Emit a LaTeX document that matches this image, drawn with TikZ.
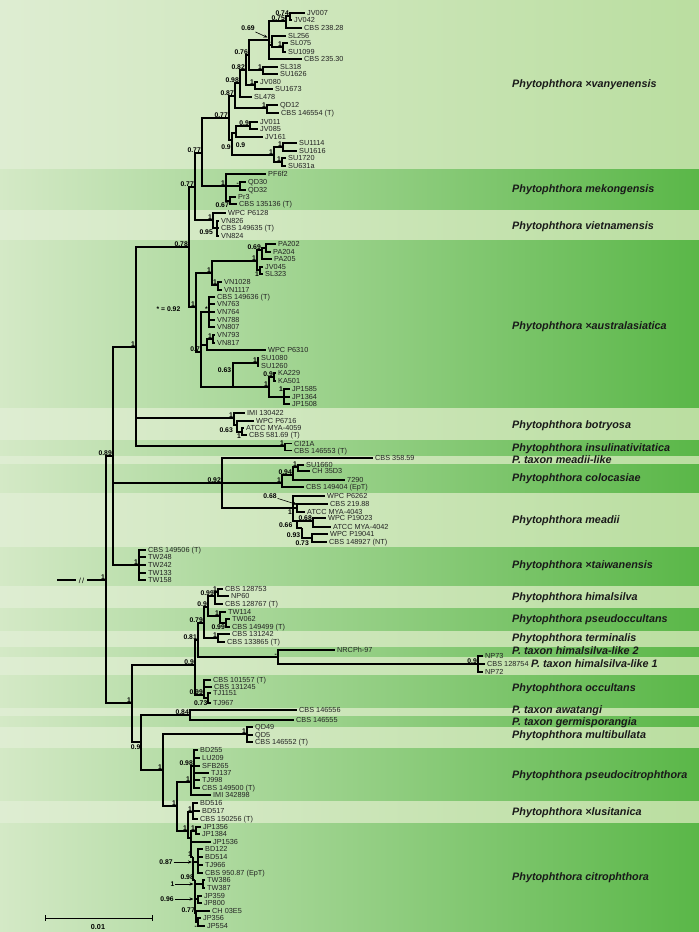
\documentclass[tikz,border=0pt]{standalone}
\usepackage{fontspec}
\setmainfont{Liberation Sans}
\usetikzlibrary{arrows.meta}
\definecolor{lbL}{RGB}{222,237,210}
\definecolor{lbR}{RGB}{186,222,160}
\definecolor{dbL}{RGB}{212,233,198}
\definecolor{dbR}{RGB}{90,183,72}
\definecolor{txt}{RGB}{35,35,35}
\tikzset{
  br/.style={line width=1.3pt, black},
  leaf/.style={anchor=west, inner xsep=2pt, inner ysep=0pt, font=\fontsize{7.3}{8}\selectfont, text height=5.2pt, text depth=0pt, text=txt},
  bs/.style={inner sep=0pt, font=\bfseries\fontsize{6.8}{7}\selectfont, text height=4.9pt, text depth=0pt},
  bsa/.style={bs, outer sep=1pt},
  arr/.style={line width=0.6pt, -{Stealth[length=4pt,width=3.2pt]}},
  clade/.style={anchor=west, inner sep=0pt, font=\bfseries\itshape\fontsize{10.8}{12}\selectfont, text height=7.7pt, text depth=0pt, text=black!90},
}
\newcommand\tnode[5]{\coordinate (#2) at (#3,#4);\draw[br] (#1) |- (#2);\node[bs,anchor=south east] (#2s) at ([xshift=-1pt,yshift=0.8pt]#2) {#5};}
\newcommand\tnoden[4]{\coordinate (#2) at (#3,#4);\draw[br] (#1) |- (#2);}
\newcommand\tleaf[5]{\node[leaf] (#2) at (#3,#4) {#5};\draw[br] (#1) |- (#2.west);}
\newcommand\dband[2]{\fill[left color=dbL,right color=dbR] (0,#1) rectangle (699,#2);}
\begin{document}
\begin{tikzpicture}[x=1pt,y=-1pt]
\useasboundingbox (0,0) rectangle (699,932);
% background bands
\fill[left color=lbL,right color=lbR] (0,0) rectangle (699,932);
\dband{169}{209}
\dband{240}{407}
\dband{440}{455}
\dband{464}{492}
\dband{547}{585}
\dband{608}{630}
\dband{647}{656}
\dband{675}{707}
\dband{716}{726}
\dband{748}{800}
\dband{823}{932}

% root
\coordinate (r) at (106,580);
\coordinate (r0) at (57,580);
\coordinate (rA) at (76,580);
\coordinate (rB) at (87,580);
\draw[br] (r0) -- (rA);
\draw[br] (rB) -- (r);
\node[inner sep=0pt, font=\fontsize{7.5}{8}\selectfont] (slash) at (81.5,580.5) {/\kern1.2pt/};
\node[bs,anchor=south east] (rs) at ([xshift=-1pt,yshift=0.8pt]r) {1};

% upper main clade
\tnode{r}{n89}{113}{456}{0.89}
\tnode{n89}{n1a}{136}{347}{1}
\tnode{n1a}{n78}{189}{247}{0.78}
\tnode{n78}{n77c}{195}{187}{0.77}
\tnode{n77c}{n77b}{202}{153}{0.77}
% vanyenensis
\tnode{n77b}{V0}{229}{118}{0.77}
\tnode{V0}{V1}{235}{96}{0.87}
\tnode{V1}{V3}{240}{83}{0.98}
\tnode{V3}{V4}{246}{70}{0.82}
\tnode{V4}{V5}{249}{55}{0.76}
\tnoden{V5}{V7}{269}{40}
\node[bsa] (V7s) at (248,28.5) {0.69};
\coordinate (V7a) at (267.5,37.5);
\draw[arr] (V7s) -- (V7a);
\tnode{V7}{V8}{286}{21}{0.75}
\tnode{V8}{V10}{290}{16}{0.74}
\tleaf{V10}{jv007}{305}{13}{JV007}
\tleaf{V10}{jv042}{292}{20}{JV042}
\tleaf{V8}{cbs23828}{302}{28}{CBS 238.28}
\tnode{V7}{V9}{272}{45}{-}
\tleaf{V9}{sl256}{286}{36}{SL256}
\tnode{V9}{VS}{283}{47}{1}
\tleaf{VS}{sl075}{288}{43}{SL075}
\tleaf{VS}{su1099}{286}{52}{SU1099}
\tleaf{V7}{cbs23530}{302}{59}{CBS 235.30}
\tnode{V5}{VSL}{263}{70}{1}
\tleaf{VSL}{sl318}{278}{67}{SL318}
\tleaf{VSL}{su1626}{278}{74}{SU1626}
\tnode{V4}{V6}{255}{85}{1}
\tleaf{V6}{jv080}{258}{82}{JV080}
\tleaf{V6}{su1673}{273}{89}{SU1673}
\tleaf{V3}{sl478}{252}{97}{SL478}
\tnode{V1}{VQ}{267}{108}{1}
\tleaf{VQ}{qd12}{278}{105}{QD12}
\tleaf{VQ}{cbs146554}{279}{113}{CBS 146554 (T)}
\tnoden{V0}{V2}{232}{140}
\node[bs] (V2s) at (226,147.5) {0.9};
\tnoden{V2}{V11}{236}{133}
\node[bs] (V11s) at (240.5,145.5) {0.9};
\tnode{V11}{VJ}{250}{126}{0.9}
\tleaf{VJ}{jv011}{258}{122}{JV011}
\tleaf{VJ}{jv085}{258}{129}{JV085}
\tleaf{V11}{jv161}{263}{137}{JV161}
\tnode{V2}{VSU}{274}{155}{1}
\tnode{VSU}{VSUa}{283}{147}{1}
\tleaf{VSUa}{su1114}{297}{143}{SU1114}
\tleaf{VSUa}{su1616}{297}{151}{SU1616}
\tnode{VSU}{VSUb}{282}{162}{1}
\tleaf{VSUb}{su1720}{286}{158}{SU1720}
\tleaf{VSUb}{su631a}{286}{166}{SU631a}
% mekongensis
\tnode{n77b}{M0}{226}{186}{1}
\tleaf{M0}{pf6f2}{266}{174}{PF6f2}
\tnode{M0}{MQ}{240}{186}{-}
\tleaf{MQ}{qd30}{246}{182}{QD30}
\tleaf{MQ}{qd32}{246}{190}{QD32}
\tnoden{M0}{MP}{230}{201}
\node[bs,anchor=north east] (MPs) at ([xshift=-1pt,yshift=-1pt]MP) {0.67};
\tleaf{MP}{pr3}{236}{197}{Pr3}
\tleaf{MP}{cbs135136}{237}{204}{CBS 135136 (T)}
% vietnamensis
\tnode{n77c}{VT}{213}{220}{1}
\tleaf{VT}{wpcp6128}{226}{213}{WPC P6128}
\tnoden{VT}{VT2}{217}{228}
\node[bs,anchor=north east] (VT2s) at ([xshift=-4pt,yshift=-1pt]VT2) {0.95};
\tleaf{VT2}{vn826}{219}{221}{VN826}
\tleaf{VT2}{cbs149635}{219}{228}{CBS 149635 (T)}
\tleaf{VT2}{vn824}{219}{236}{VN824}
% australasiatica
\tnode{n78}{A0}{196}{307}{1}
\tnode{A0}{A1}{212}{273}{1}
\tnode{A1}{PA}{257}{261}{1}
\tnode{PA}{P1}{262}{250}{0.69}
\tnoden{P1}{P2}{266}{248}
\tleaf{P2}{pa202}{276}{244}{PA202}
\tleaf{P2}{pa204}{271}{252}{PA204}
\tleaf{P1}{pa205}{272}{259}{PA205}
\tnoden{PA}{PJ}{260}{270}
\node[bs,anchor=north east] (PJs) at ([xshift=-1pt,yshift=-1pt]PJ) {1};
\tleaf{PJ}{jv045}{263}{267}{JV045}
\tleaf{PJ}{sl323}{263}{274}{SL323}
\tnode{A1}{VNa}{218}{285}{1}
\tleaf{VNa}{vn1028}{222}{282}{VN1028}
\tleaf{VNa}{vn1117}{222}{290}{VN1117}
\tnode{A0}{A2}{201}{352}{0.7}
\tnode{A2}{S}{209}{312}{*}
\tleaf{S}{cbs149636}{215}{297}{CBS 149636 (T)}
\tleaf{S}{vn763}{215}{304}{VN763}
\tleaf{S}{vn764}{215}{312}{VN764}
\tleaf{S}{vn788}{215}{320}{VN788}
\tleaf{S}{vn807}{215}{327}{VN807}
\tnoden{A2}{W}{207}{345}
\tnode{W}{VN79}{213}{339}{1}
\tleaf{VN79}{vn793}{215}{335}{VN793}
\tleaf{VN79}{vn817}{215}{343}{VN817}
\tleaf{W}{wpcp6310}{266}{350}{WPC P6310}
\tnoden{A2}{A63}{233}{387}
\node[bs] (A63s) at (224.5,370) {0.63};
\tnode{A63}{SUp}{258}{363}{1}
\tleaf{SUp}{su1080}{259}{358}{SU1080}
\tleaf{SUp}{su1260}{259}{366}{SU1260}
\tnode{A63}{KJ}{269}{387}{1}
\tnode{KJ}{KA}{274}{377}{0.9}
\tleaf{KA}{ka229}{276}{373}{KA229}
\tleaf{KA}{ka501}{276}{381}{KA501}
\tnoden{KJ}{JP}{284}{397}
\node[bs,anchor=south east] (JPs) at ([xshift=-1pt,yshift=5.5pt]JP) {1};
\tleaf{JP}{jp1585}{290}{389}{JP1585}
\tleaf{JP}{jp1364}{290}{397}{JP1364}
\tleaf{JP}{jp1508}{290}{404}{JP1508}
% botryosa
\tnode{n1a}{B1}{234}{418}{1}
\tleaf{B1}{imi130422}{245}{413}{IMI 130422}
\tnoden{B1}{B2}{237}{425}
\node[bs,anchor=north east] (B2s) at ([xshift=-4pt,yshift=-2pt]B2) {0.63};
\tleaf{B2}{wpcp6716}{254}{421}{WPC P6716}
\tnoden{B2}{B3}{242}{432}
\node[bs,anchor=north east] (B3s) at ([xshift=-1pt,yshift=-1pt]B3) {1};
\tleaf{B3}{atcc4059}{244}{428}{ATCC MYA-4059}
\tleaf{B3}{cbs58169}{247}{435}{CBS 581.69 (T)}
% insulinativitatica
\tnode{n1a}{IS}{285}{446}{1}
\tleaf{IS}{ci21a}{292}{443.5}{CI21A}
\tleaf{IS}{cbs146553}{292}{450.5}{CBS 146553 (T)}
% meadii-like, colocasiae, meadii
\tnode{n89}{n92}{222}{483}{0.92}
\tleaf{n92}{cbs35859}{373}{458}{CBS 358.59}
\tnode{n92}{C0}{282}{483}{1}
\tnode{C0}{C1}{293}{475}{0.94}
\tnode{C1}{C2}{298}{467}{1}
\tleaf{C2}{su1660}{304}{465}{SU1660}
\tleaf{C2}{ch35d3}{310}{471}{CH 35D3}
\tleaf{C1}{n7290}{345}{480}{7290}
\tleaf{C0}{cbs149404}{304}{487}{CBS 149404 (EpT)}
\tnoden{n92}{M1}{293}{508}
\node[bs,anchor=north east] (M1s) at ([xshift=-1pt,yshift=-1.5pt]M1) {1};
\tleaf{M1}{wpcp6262}{325}{496}{WPC P6262}
\tnoden{M1}{M3}{297}{508}
\node[bsa] (M3s) at (270,496) {0.68};
\coordinate (M3a) at (297,504.5);
\draw[arr] (M3s) -- (M3a);
\tleaf{M3}{cbs21988}{328}{504}{CBS 219.88}
\tleaf{M3}{atcc4043}{305}{512}{ATCC MYA-4043}
\tnoden{M1}{M2}{297}{521}
\node[bs,anchor=north east] (M2s) at ([xshift=-4.5pt,yshift=-1pt]M2) {0.66};
\tnode{M2}{M5}{313}{521}{0.68}
\tleaf{M5}{wpcp19023}{326}{518}{WPC P19023}
\tleaf{M5}{atcc4042}{331}{527}{ATCC MYA-4042}
\tnoden{M2}{M4}{302}{528}
\node[bs] (M4s) at (293.5,535) {0.93};
\tnoden{M4}{M6}{312}{538}
\node[bs,anchor=north east] (M6s) at ([xshift=-3pt,yshift=-2.5pt]M6) {0.73};
\tleaf{M6}{wpcp19041}{328}{534}{WPC P19041}
\tleaf{M6}{cbs148927}{327}{542}{CBS 148927 (NT)}
% taiwanensis
\tnode{n89}{Tw}{139}{565}{1}
\tleaf{Tw}{cbs149506}{146}{550}{CBS 149506 (T)}
\tleaf{Tw}{tw248}{146}{557}{TW248}
\tleaf{Tw}{tw242}{146}{565}{TW242}
\tleaf{Tw}{tw133}{146}{573}{TW133}
\tleaf{Tw}{tw158}{146}{580}{TW158}

% lower main clade
\tnode{r}{n1b}{132}{703}{1}
\tnode{n1b}{G}{195}{665}{0.9}
\tnode{G}{T81}{198}{640}{0.81}
\tnode{T81}{N79}{204}{623}{0.79}
\tnode{N79}{N9}{208}{607}{0.9}
\tnode{N9}{Hs}{215}{596}{0.99}
\tnode{Hs}{Hp}{218}{592}{1}
\tleaf{Hp}{cbs128753}{223}{589}{CBS 128753}
\tleaf{Hp}{np60}{229}{596}{NP60}
\tleaf{Hs}{cbs128767}{223}{604}{CBS 128767 (T)}
\tnode{N9}{Ps}{220}{616}{1}
\tleaf{Ps}{tw114}{226}{612}{TW114}
\tnoden{Ps}{Pp}{226}{623}
\node[bs,anchor=north east] (Pps) at ([xshift=-1pt,yshift=-1pt]Pp) {0.99};
\tleaf{Pp}{tw062}{230}{619}{TW062}
\tleaf{Pp}{cbs149499}{230}{627}{CBS 149499 (T)}
\tnode{N79}{Te}{218}{638}{1}
\tleaf{Te}{cbs131242}{230}{634}{CBS 131242}
\tleaf{Te}{cbs133865}{225}{642}{CBS 133865 (T)}
\tnode{T81}{H2}{278}{657}{-}
\tleaf{H2}{nrcph97}{335}{650}{NRCPh-97}
\tnode{H2}{H1}{478}{664}{0.9}
\tleaf{H1}{np73}{483}{656}{NP73}
\tleaf{H1}{cbs128754}{485}{664}{CBS 128754}
\tleaf{H1}{np72}{483}{672}{NP72}
\tnode{G}{O}{204}{695}{0.99}
\tleaf{O}{cbs101557}{211}{680}{CBS 101557 (T)}
\tleaf{O}{cbs131245}{212}{687}{CBS 131245}
\tnoden{O}{O2}{208}{698}
\node[bs,anchor=north east] (O2s) at ([xshift=-0.5pt,yshift=-2.8pt]O2) {0.73};
\tleaf{O2}{tj1151}{211}{693}{TJ1151}
\tleaf{O2}{tj967}{211}{703}{TJ967}
\tnoden{n1b}{n9b}{141}{742}
\node[bs,anchor=north east] (n9bs) at ([xshift=-0.5pt,yshift=-2pt]n9b) {0.9};
\tnode{n9b}{n84}{190}{715}{0.84}
\tleaf{n84}{cbs146556}{297}{710}{CBS 146556}
\tleaf{n84}{cbs146555}{294}{720}{CBS 146555}
\tnode{n9b}{n1c}{163}{770}{1}
\tnode{n1c}{Mu}{247}{734}{1}
\tleaf{Mu}{qd49}{253}{727}{QD49}
\tleaf{Mu}{qd5}{253}{735}{QD5}
\tleaf{Mu}{cbs146552}{253}{742}{CBS 146552 (T)}
\tnode{n1c}{n1d}{177}{806}{1}
\tnode{n1d}{PcA}{191}{782}{1}
\tnode{PcA}{PcB}{194}{766}{0.98}
\tleaf{PcB}{bd255}{198}{750}{BD255}
\tleaf{PcB}{lu209}{200}{758}{LU209}
\tleaf{PcB}{sfb265}{200}{766}{SFB265}
\tleaf{PcB}{tj137}{209}{773}{TJ137}
\tleaf{PcB}{tj998}{200}{780}{TJ998}
\tleaf{PcB}{cbs149500}{200}{788}{CBS 149500 (T)}
\tleaf{PcA}{imi342898}{211}{795}{IMI 342898}
\tnode{n1d}{L}{188}{831}{1}
\tnode{L}{Lus}{193}{812}{1}
\tleaf{Lus}{bd516}{198}{803}{BD516}
\tleaf{Lus}{bd517}{200}{811}{BD517}
\tleaf{Lus}{cbs150256}{198}{819}{CBS 150256 (T)}
\tnoden{L}{Cit}{191}{838}
\tnode{Cit}{JPp}{196}{831}{1}
\tleaf{JPp}{jp1356}{201}{827}{JP1356}
\tleaf{JPp}{jp1384}{200}{834}{JP1384}
\tleaf{Cit}{jp1536}{211}{842}{JP1536}
\tnode{Cit}{Cit1}{193}{857}{1}
\tnoden{Cit1}{Bg}{198}{862}
\node[bsa] (Bgs) at (166,862) {0.87};
\coordinate (Bga) at (192,862);
\draw[arr] (Bgs) -- (Bga);
\tleaf{Bg}{bd122}{203}{849}{BD122}
\tleaf{Bg}{bd514}{203}{857}{BD514}
\tleaf{Bg}{tj966}{203}{865}{TJ966}
\tleaf{Bg}{cbs95087}{203}{873}{CBS 950.87 (EpT)}
\tnode{Cit1}{Cit2}{195}{880}{0.98}
\tnoden{Cit2}{TWp}{203}{884}
\node[bsa] (TWps) at (172.5,884) {1};
\coordinate (TWpa) at (193.5,884);
\draw[arr] (TWps) -- (TWpa);
\tleaf{TWp}{tw386}{205}{880}{TW386}
\tleaf{TWp}{tw387}{205}{888}{TW387}
\tnoden{Cit2}{JPp2}{198}{899}
\node[bsa] (JPp2s) at (167,899) {0.96};
\coordinate (JPp2a) at (193.5,899);
\draw[arr] (JPp2s) -- (JPp2a);
\tleaf{JPp2}{jp359}{202}{896}{JP359}
\tleaf{JPp2}{jp800}{202}{903}{JP800}
\tnode{Cit2}{Cit3}{196}{913}{0.77}
\tleaf{Cit3}{ch03e5}{210}{911}{CH 03E5}
\tnoden{Cit3}{JPp3}{198}{922}
\node[bs,anchor=north east] (JPp3s) at ([xshift=-1pt,yshift=-1pt]JPp3) {-};
\tleaf{JPp3}{jp356}{201}{918}{JP356}
\tleaf{JPp3}{jp554}{205}{926}{JP554}

% star note
\node[bs] (starnote) at (168.5,309) {* = 0.92};

% scale bar
\coordinate (sb1) at (45,918);
\coordinate (sb2) at (152,918);
\draw[line width=1pt] (sb1) -- (sb2);
\draw[line width=1pt] ([yshift=3pt]sb1) -- ([yshift=-3pt]sb1);
\draw[line width=1pt] ([yshift=3pt]sb2) -- ([yshift=-3pt]sb2);
\node[bs, font=\bfseries\fontsize{7.2}{8}\selectfont] (sbl) at (98,927) {0.01};

% clade names
\node[clade] (c1) at (512,84) {Phytophthora ×vanyenensis};
\node[clade] (c2) at (512,189) {Phytophthora mekongensis};
\node[clade] (c3) at (512,226) {Phytophthora vietnamensis};
\node[clade] (c4) at (512,326) {Phytophthora ×australasiatica};
\node[clade] (c5) at (512,425) {Phytophthora botryosa};
\node[clade] (c6) at (512,448) {Phytophthora insulinativitatica};
\node[clade] (c7) at (512,460) {P. taxon meadii-like};
\node[clade] (c8) at (512,478) {Phytophthora colocasiae};
\node[clade] (c9) at (512,520) {Phytophthora meadii};
\node[clade] (c10) at (512,565) {Phytophthora ×taiwanensis};
\node[clade] (c11) at (512,597) {Phytophthora himalsilva};
\node[clade] (c12) at (512,619) {Phytophthora pseudoccultans};
\node[clade] (c13) at (512,638) {Phytophthora terminalis};
\node[clade] (c14) at (512,651) {P. taxon himalsilva-like 2};
\node[clade] (c15) at (531,664) {P. taxon himalsilva-like 1};
\node[clade] (c16) at (512,688) {Phytophthora occultans};
\node[clade] (c17) at (512,710) {P. taxon awatangi};
\node[clade] (c18) at (512,722) {P. taxon germisporangia};
\node[clade] (c19) at (512,735) {Phytophthora multibullata};
\node[clade] (c20) at (512,775) {Phytophthora pseudocitrophthora};
\node[clade] (c21) at (512,812) {Phytophthora ×lusitanica};
\node[clade] (c22) at (512,877) {Phytophthora citrophthora};
\end{tikzpicture}
\end{document}
